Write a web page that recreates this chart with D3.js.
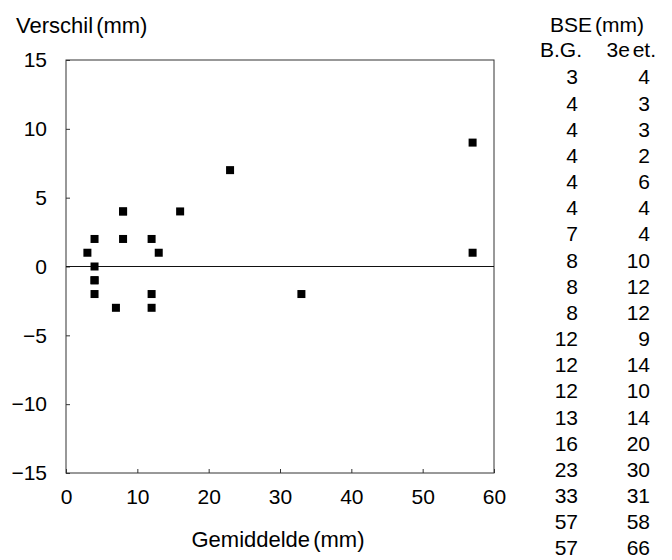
<!DOCTYPE html>
<html>
<head>
<meta charset="utf-8">
<script src="https://cdn.jsdelivr.net/npm/d3@7"></script>
<style>
  html, body { margin: 0; padding: 0; background: #fff; }
  svg text { font-family: "Liberation Sans", Arial, Helvetica, sans-serif; fill: #000; }
</style>
</head>
<body>
<svg id="chart" width="672" height="560"></svg>
<script>
// ---- data ----
const bseBG = [3, 4, 4, 4, 4, 4, 7, 8, 8, 8, 12, 12, 12, 13, 16, 23, 33, 57, 57];
const bse3e = [4, 3, 3, 2, 6, 4, 4, 10, 12, 12, 9, 14, 10, 14, 20, 30, 31, 58, 66];
const xTicks = [0, 10, 20, 30, 40, 50, 60];
const yTicks = [-15, -10, -5, 0, 5, 10, 15];
const yTitle = "Verschil (mm)";
const xTitle = "Gemiddelde (mm)";
const tableTitle = "BSE (mm)";
const colHeaders = ["B.G.", "3e et."];

// ---- layout ----
const svg = d3.select("#chart");
const FS = 21;
const FT = 22;
const x = d3.scaleLinear().domain([0, 60]).range([66, 494]);
const y = d3.scaleLinear().domain([-15, 15]).range([473, 60]);

const points = bseBG.map((b, i) => ({ x: b, y: bse3e[i] - b }));

// frame
svg.append("rect")
  .attr("x", x(0)).attr("y", y(15))
  .attr("width", x(60) - x(0)).attr("height", y(-15) - y(15))
  .attr("fill", "none").attr("stroke", "#333").attr("stroke-width", 1);

// y axis (ticks inward)
const yAxis = d3.axisLeft(y).tickValues(yTicks).tickSize(-4).tickPadding(19)
  .tickFormat(d => d < 0 ? "\u2212" + Math.abs(d) : String(d));
const gy = svg.append("g").attr("transform", `translate(${x(0)},0)`).call(yAxis);
gy.select(".domain").remove();
gy.selectAll("line").attr("stroke", "#333");
gy.selectAll("text").attr("font-size", FS).attr("font-family", null).attr("fill", "#000");

// x axis (ticks inward)
const xAxis = d3.axisBottom(x).tickValues(xTicks).tickSize(-4).tickPadding(16);
const gx = svg.append("g").attr("transform", `translate(0,${y(-15)})`).call(xAxis);
gx.select(".domain").remove();
gx.selectAll("line").attr("stroke", "#333");
gx.selectAll("text").attr("font-size", FS).attr("font-family", null).attr("fill", "#000");

// zero line
svg.append("line")
  .attr("x1", x(0)).attr("x2", x(60))
  .attr("y1", y(0)).attr("y2", y(0))
  .attr("stroke", "#111").attr("stroke-width", 1.2);

// points
const S = 8;
svg.append("g").selectAll("rect").data(points).join("rect")
  .attr("x", d => x(d.x) - S / 2)
  .attr("y", d => y(d.y) - S / 2)
  .attr("width", S).attr("height", S)
  .attr("fill", "#000");

// titles
svg.append("text").attr("x", 16).attr("y", 25).attr("dy", "0.35em")
  .attr("font-size", FT).attr("word-spacing", -3).text(yTitle);
svg.append("text").attr("x", 278).attr("y", 539).attr("dy", "0.35em")
  .attr("text-anchor", "middle").attr("font-size", FT).attr("word-spacing", -3).text(xTitle);

// table
svg.append("text").attr("x", 597).attr("y", 25).attr("dy", "0.35em")
  .attr("text-anchor", "middle").attr("font-size", FS).attr("word-spacing", -3).text(tableTitle);
svg.append("text").attr("x", 582).attr("y", 50).attr("dy", "0.35em")
  .attr("text-anchor", "end").attr("font-size", FS).text(colHeaders[0]);
svg.append("text").attr("x", 656).attr("y", 50).attr("dy", "0.35em")
  .attr("text-anchor", "end").attr("font-size", FS).attr("word-spacing", -3).text(colHeaders[1]);

const row = d3.scaleLinear().domain([0, bseBG.length - 1]).range([77, 548]);
const tg = svg.append("g");
tg.selectAll("text.bg").data(bseBG).join("text").attr("class", "bg")
  .attr("x", 578).attr("y", (d, i) => row(i)).attr("dy", "0.35em")
  .attr("text-anchor", "end").attr("font-size", FS).text(d => d);
tg.selectAll("text.et").data(bse3e).join("text").attr("class", "et")
  .attr("x", 650).attr("y", (d, i) => row(i)).attr("dy", "0.35em")
  .attr("text-anchor", "end").attr("font-size", FS).text(d => d);
</script>
</body>
</html>
